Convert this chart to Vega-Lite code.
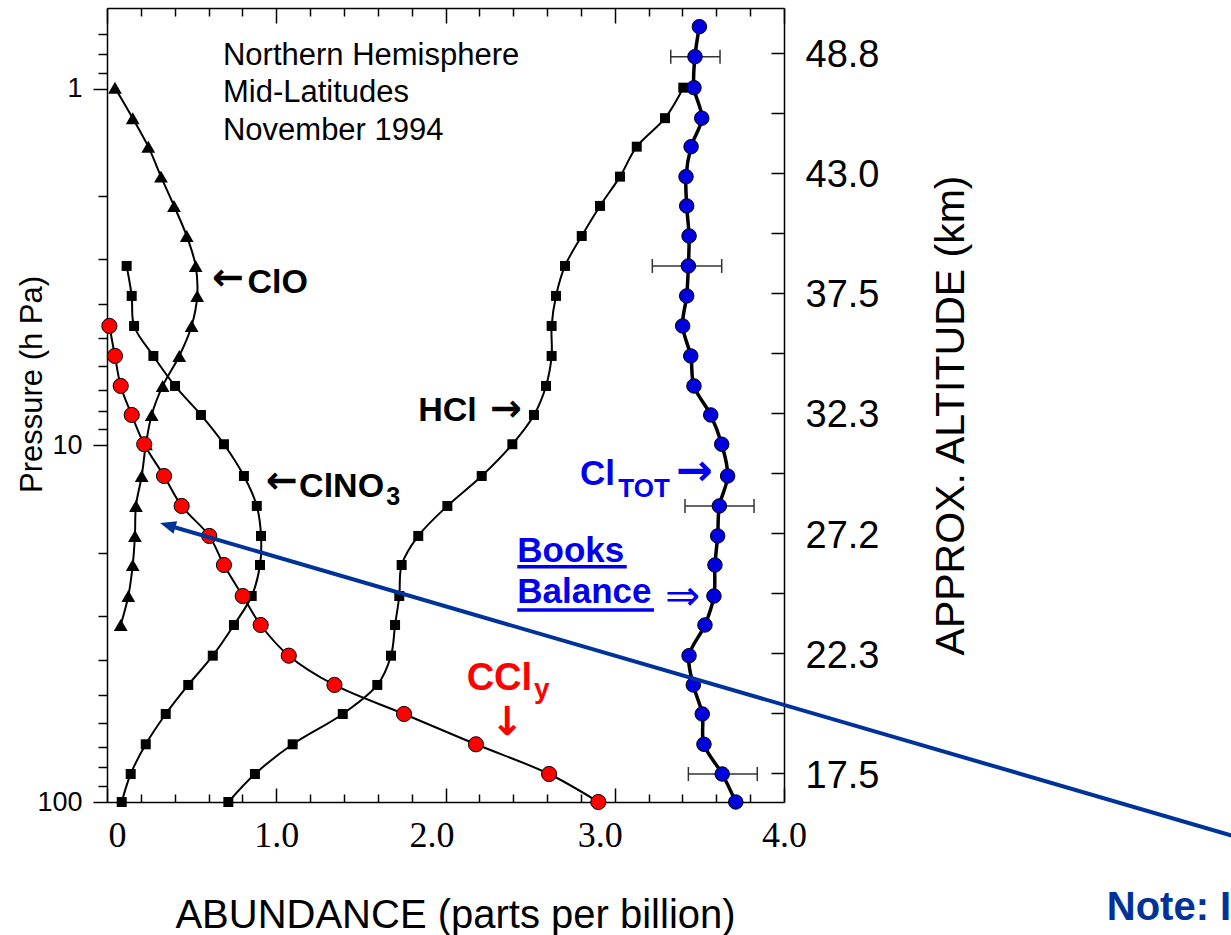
{
  "$schema": "https://vega.github.io/schema/vega-lite/v6.json",
  "width": 677,
  "height": 794,
  "autosize": "none",
  "padding": {"left": 107, "top": 8, "right": 447, "bottom": 133},
  "background": "white",
  "config": {"view": {"stroke": null}, "font": "Liberation Sans"},
  "datasets": {
    "pts": [
      {"s":"ClTOT","p":0.669,"v":3.500},{"s":"ClTOT","p":0.812,"v":3.474},{"s":"ClTOT","p":0.992,"v":3.468},{"s":"ClTOT","p":1.208,"v":3.514},{"s":"ClTOT","p":1.452,"v":3.451},{"s":"ClTOT","p":1.762,"v":3.421},{"s":"ClTOT","p":2.129,"v":3.425},{"s":"ClTOT","p":2.585,"v":3.439},{"s":"ClTOT","p":3.137,"v":3.435},{"s":"ClTOT","p":3.807,"v":3.425},{"s":"ClTOT","p":4.622,"v":3.401},{"s":"ClTOT","p":5.610,"v":3.449},{"s":"ClTOT","p":6.809,"v":3.468},{"s":"ClTOT","p":8.212,"v":3.567},{"s":"ClTOT","p":9.922,"v":3.632},{"s":"ClTOT","p":12.18,"v":3.667},{"s":"ClTOT","p":14.78,"v":3.618},{"s":"ClTOT","p":17.94,"v":3.608},{"s":"ClTOT","p":21.64,"v":3.592},{"s":"ClTOT","p":26.44,"v":3.586},{"s":"ClTOT","p":31.88,"v":3.533},{"s":"ClTOT","p":38.87,"v":3.439},{"s":"ClTOT","p":46.96,"v":3.464},{"s":"ClTOT","p":56.64,"v":3.517},{"s":"ClTOT","p":68.89,"v":3.527},{"s":"ClTOT","p":83.46,"v":3.635},{"s":"ClTOT","p":100,"v":3.715},
      {"s":"HCl","p":0.992,"v":3.405},{"s":"HCl","p":1.208,"v":3.297},{"s":"HCl","p":1.452,"v":3.130},{"s":"HCl","p":1.762,"v":3.031},{"s":"HCl","p":2.129,"v":2.913},{"s":"HCl","p":2.585,"v":2.805},{"s":"HCl","p":3.137,"v":2.706},{"s":"HCl","p":3.807,"v":2.653},{"s":"HCl","p":4.622,"v":2.627},{"s":"HCl","p":5.610,"v":2.627},{"s":"HCl","p":6.809,"v":2.594},{"s":"HCl","p":8.212,"v":2.523},{"s":"HCl","p":9.922,"v":2.395},{"s":"HCl","p":12.18,"v":2.214},{"s":"HCl","p":14.78,"v":2.011},{"s":"HCl","p":17.94,"v":1.839},{"s":"HCl","p":21.64,"v":1.741},{"s":"HCl","p":26.44,"v":1.727},{"s":"HCl","p":31.88,"v":1.702},{"s":"HCl","p":38.87,"v":1.678},{"s":"HCl","p":46.96,"v":1.597},{"s":"HCl","p":56.64,"v":1.393},{"s":"HCl","p":68.89,"v":1.097},{"s":"HCl","p":83.46,"v":0.874},{"s":"HCl","p":100,"v":0.717},
      {"s":"ClO","p":0.992,"v":0.047},{"s":"ClO","p":1.208,"v":0.152},{"s":"ClO","p":1.452,"v":0.244},{"s":"ClO","p":1.762,"v":0.319},{"s":"ClO","p":2.129,"v":0.396},{"s":"ClO","p":2.585,"v":0.471},{"s":"ClO","p":3.137,"v":0.524},{"s":"ClO","p":3.807,"v":0.533},{"s":"ClO","p":4.622,"v":0.500},{"s":"ClO","p":5.610,"v":0.427},{"s":"ClO","p":6.809,"v":0.329},{"s":"ClO","p":8.212,"v":0.264},{"s":"ClO","p":9.922,"v":0.230},{"s":"ClO","p":12.18,"v":0.205},{"s":"ClO","p":14.78,"v":0.171},{"s":"ClO","p":17.94,"v":0.165},{"s":"ClO","p":21.64,"v":0.152},{"s":"ClO","p":26.44,"v":0.126},{"s":"ClO","p":31.88,"v":0.081},
      {"s":"ClONO2","p":3.137,"v":0.116},{"s":"ClONO2","p":3.807,"v":0.146},{"s":"ClONO2","p":4.622,"v":0.160},{"s":"ClONO2","p":5.610,"v":0.274},{"s":"ClONO2","p":6.809,"v":0.402},{"s":"ClONO2","p":8.212,"v":0.555},{"s":"ClONO2","p":9.922,"v":0.691},{"s":"ClONO2","p":12.18,"v":0.809},{"s":"ClONO2","p":14.78,"v":0.885},{"s":"ClONO2","p":17.94,"v":0.910},{"s":"ClONO2","p":21.64,"v":0.904},{"s":"ClONO2","p":26.44,"v":0.855},{"s":"ClONO2","p":31.88,"v":0.750},{"s":"ClONO2","p":38.87,"v":0.625},{"s":"ClONO2","p":46.96,"v":0.480},{"s":"ClONO2","p":56.64,"v":0.347},{"s":"ClONO2","p":68.89,"v":0.229},{"s":"ClONO2","p":83.46,"v":0.140},{"s":"ClONO2","p":100,"v":0.087},
      {"s":"CCly","p":4.622,"v":0.014},{"s":"CCly","p":5.610,"v":0.047},{"s":"CCly","p":6.809,"v":0.081},{"s":"CCly","p":8.212,"v":0.146},{"s":"CCly","p":9.922,"v":0.220},{"s":"CCly","p":12.18,"v":0.337},{"s":"CCly","p":14.78,"v":0.441},{"s":"CCly","p":17.94,"v":0.604},{"s":"CCly","p":21.64,"v":0.691},{"s":"CCly","p":26.44,"v":0.802},{"s":"CCly","p":31.88,"v":0.908},{"s":"CCly","p":38.87,"v":1.074},{"s":"CCly","p":46.96,"v":1.344},{"s":"CCly","p":56.64,"v":1.755},{"s":"CCly","p":68.89,"v":2.180},{"s":"CCly","p":83.46,"v":2.612},{"s":"CCly","p":100,"v":2.903}
    ],
    "errs": [
      {"p":0.812,"lo":3.331,"hi":3.622},
      {"p":3.137,"lo":3.222,"hi":3.632},
      {"p":14.78,"lo":3.415,"hi":3.823},
      {"p":83.46,"lo":3.435,"hi":3.842}
    ],
    "labels": [
      {"g":"info","t":"Northern Hemisphere","v":0.685,"p":0.856},
      {"g":"info","t":"Mid-Latitudes","v":0.685,"p":1.088},
      {"g":"info","t":"November 1994","v":0.685,"p":1.390},
      {"g":"blk","t":"ClO","v":0.830,"p":3.735},
      {"g":"arr","t":"←","v":0.620,"p":3.412},
      {"g":"blk","t":"HCl","v":1.839,"p":8.538},
      {"g":"arr","t":"→","v":2.263,"p":7.95},
      {"g":"blk","t":"ClNO","v":1.135,"p":13.95},
      {"g":"arr","t":"←","v":0.938,"p":12.64},
      {"g":"blksub","t":"3","v":1.650,"p":14.69},
      {"g":"blu","t":"Cl","v":2.795,"p":12.90},
      {"g":"barr","t":"→","v":3.360,"p":11.85},
      {"g":"blu","t":"Books","v":2.424,"p":21.23},
      {"g":"blu","t":"Balance","v":2.424,"p":27.66},
      {"g":"blusub","t":"TOT","v":3.021,"p":13.95},
      {"g":"blu2","t":"⇒","v":3.297,"p":26.61},
      {"g":"red","t":"CCl","v":2.125,"p":48.52},
      {"g":"redsub","t":"y","v":2.523,"p":51.08},
      {"g":"redarr","t":"↓","v":2.365,"p":60.15},
      {"g":"note","t":"Note: I","v":5.907,"p":214.3}
    ],
    "ulines": [
      {"v":2.424,"v2":3.071,"p":21.88},
      {"v":2.424,"v2":3.232,"p":28.94}
    ],
    "arrow": [
      {"v":0.3586,"p":16.74,"v2":6.753,"p2":128.5}
    ]
  },
  "layer": [
    {
      "data": {"name": "pts"},
      "transform": [{"filter": "datum.s != 'ClTOT'"}],
      "mark": {"type": "line", "color": "black", "strokeWidth": 2, "interpolate": "catmull-rom"},
      "encoding": {
        "x": {"field": "v", "type": "quantitative", "scale": {"domain": [0, 4], "nice": false, "zero": false},
          "axis": {
            "orient": "bottom",
            "values": [0,0.2,0.4,0.6,0.8,1,1.2,1.4,1.6,1.8,2,2.2,2.4,2.6,2.8,3,3.2,3.4,3.6,3.8,4],
            "grid": false,
            "domainColor": "black", "domainWidth": 1.5,
            "tickColor": "black", "tickWidth": 1.5,
            "tickSize": {"condition": {"test": "datum.value % 1 == 0", "value": -14}, "value": -8},
            "labelExpr": "datum.value == 0 ? '0' : (datum.value % 1 == 0 ? format(datum.value, '.1f') : '')",
            "labelFont": "Liberation Serif", "labelFontSize": 36, "labelColor": "black",
            "labelPadding": 30, "labelOverlap": false, "labelFlush": false, "labelBound": false,
            "labelOffset": {"condition": [{"test": "datum.value == 0", "value": 10}, {"test": "datum.value == 2", "value": -14}, {"test": "datum.value == 3", "value": -15}], "value": 0},
            "title": "ABUNDANCE (parts per billion)",
            "titleFont": "Liberation Sans", "titleFontSize": 40, "titleFontWeight": "normal", "titleColor": "black",
            "titleX": 348, "titleY": 125, "titleAlign": "center", "titleBaseline": "alphabetic"
          }},
        "y": {"field": "p", "type": "quantitative", "scale": {"type": "log", "domain": [0.593, 100], "reverse": true, "nice": false},
          "axis": {
            "orient": "left",
            "values": [0.7,0.8,0.9,1,2,3,4,5,6,7,8,9,10,20,30,40,50,60,70,80,90,100],
            "grid": false,
            "domainColor": "black", "domainWidth": 1.5,
            "tickColor": "black", "tickWidth": 1.5,
            "tickSize": {"condition": {"test": "datum.value == 1 || datum.value == 10 || datum.value == 100", "value": 14}, "value": 9},
            "labelExpr": "datum.value == 1 || datum.value == 10 || datum.value == 100 ? format(datum.value, 'd') : ''",
            "labelFont": "Liberation Sans", "labelFontSize": 27, "labelColor": "black",
            "labelPadding": 11, "labelOverlap": false, "labelFlush": false, "labelBound": false,
            "title": "Pressure (h Pa)",
            "titleFont": "Liberation Sans", "titleFontSize": 31, "titleFontWeight": "normal", "titleColor": "black",
            "titleX": -66, "titleY": 376, "titleAngle": 270, "titleAlign": "center", "titleBaseline": "alphabetic"
          }},
        "detail": {"field": "s"},
        "order": {"field": "p", "type": "quantitative"}
      }
    },
    {
      "data": {"name": "pts"},
      "transform": [{"filter": "datum.s == 'ClTOT'"}],
      "mark": {"type": "line", "color": "black", "strokeWidth": 3.5, "interpolate": "catmull-rom"},
      "encoding": {
        "x": {"field": "v", "type": "quantitative", "scale": {"domain": [0, 4], "nice": false, "zero": false},
          "axis": {
            "orient": "top",
            "values": [0,0.2,0.4,0.6,0.8,1,1.2,1.4,1.6,1.8,2,2.2,2.4,2.6,2.8,3,3.2,3.4,3.6,3.8,4],
            "grid": false, "labels": false, "title": null,
            "domainColor": "black", "domainWidth": 1.5,
            "tickColor": "black", "tickWidth": 1.5,
            "tickSize": {"condition": {"test": "datum.value % 1 == 0", "value": -15}, "value": -8}
          }},
        "y": {"field": "p", "type": "quantitative", "scale": {"type": "log", "domain": [0.593, 100], "reverse": true, "nice": false},
          "axis": {
            "orient": "right",
            "values": [0.7925, 1.1676, 1.7205, 2.5349, 3.7349, 5.503, 8.1083, 11.946, 17.601, 25.933, 38.209, 56.297, 82.93],
            "grid": false,
            "domainColor": "black", "domainWidth": 1.5,
            "tickColor": "black", "tickWidth": 1.5, "tickSize": -13,
            "labelExpr": "['48.8','','43.0','','37.5','','32.3','','27.2','','22.3','','17.5'][round((log(datum.value)/LN10 + 0.101)/0.1683)]",
            "labelFont": "Liberation Sans", "labelFontSize": 38, "labelColor": "black",
            "labelPadding": 34, "labelOffset": 3, "labelAlign": "left", "labelOverlap": false, "labelFlush": false, "labelBound": false,
            "title": "APPROX. ALTITUDE (km)",
            "titleFont": "Liberation Sans", "titleFontSize": 41, "titleFontWeight": "normal", "titleColor": "black",
            "titleX": 179, "titleY": 407, "titleAngle": 270, "titleAlign": "center", "titleBaseline": "alphabetic"
          }},
        "order": {"field": "p", "type": "quantitative"}
      }
    },
    {
      "data": {"name": "errs"},
      "mark": {"type": "rule", "color": "#333333", "strokeWidth": 1.5},
      "encoding": {
        "x": {"field": "lo", "type": "quantitative", "scale": {"domain": [0, 4], "nice": false, "zero": false}, "axis": null},
        "x2": {"field": "hi"},
        "y": {"field": "p", "type": "quantitative", "scale": {"type": "log", "domain": [0.593, 100], "reverse": true, "nice": false}, "axis": null}
      }
    },
    {
      "data": {"name": "errs"},
      "transform": [{"fold": ["lo", "hi"], "as": ["k", "xv"]}],
      "mark": {"type": "point", "shape": "M0,-1L0,1", "filled": false, "stroke": "#333333", "strokeWidth": 1.5, "size": 196, "opacity": 1},
      "encoding": {
        "x": {"field": "xv", "type": "quantitative", "scale": {"domain": [0, 4], "nice": false, "zero": false}, "axis": null},
        "y": {"field": "p", "type": "quantitative", "scale": {"type": "log", "domain": [0.593, 100], "reverse": true, "nice": false}, "axis": null}
      }
    },
    {
      "data": {"name": "pts"},
      "transform": [{"filter": "datum.s == 'HCl' || datum.s == 'ClONO2'"}],
      "mark": {"type": "point", "shape": "square", "filled": true, "color": "black", "size": 100, "opacity": 1},
      "encoding": {
        "x": {"field": "v", "type": "quantitative", "scale": {"domain": [0, 4], "nice": false, "zero": false}, "axis": null},
        "y": {"field": "p", "type": "quantitative", "scale": {"type": "log", "domain": [0.593, 100], "reverse": true, "nice": false}, "axis": null}
      }
    },
    {
      "data": {"name": "pts"},
      "transform": [{"filter": "datum.s == 'ClO'"}],
      "mark": {"type": "point", "shape": "triangle-up", "filled": true, "color": "black", "size": 190, "opacity": 1},
      "encoding": {
        "x": {"field": "v", "type": "quantitative", "scale": {"domain": [0, 4], "nice": false, "zero": false}, "axis": null},
        "y": {"field": "p", "type": "quantitative", "scale": {"type": "log", "domain": [0.593, 100], "reverse": true, "nice": false}, "axis": null}
      }
    },
    {
      "data": {"name": "pts"},
      "transform": [{"filter": "datum.s == 'CCly'"}],
      "mark": {"type": "point", "shape": "circle", "filled": true, "fill": "#ff0000", "stroke": "black", "strokeWidth": 1, "size": 230, "opacity": 1},
      "encoding": {
        "x": {"field": "v", "type": "quantitative", "scale": {"domain": [0, 4], "nice": false, "zero": false}, "axis": null},
        "y": {"field": "p", "type": "quantitative", "scale": {"type": "log", "domain": [0.593, 100], "reverse": true, "nice": false}, "axis": null}
      }
    },
    {
      "data": {"name": "pts"},
      "transform": [{"filter": "datum.s == 'ClTOT'"}],
      "mark": {"type": "point", "shape": "circle", "filled": true, "fill": "#0000dd", "stroke": "black", "strokeWidth": 1, "size": 210, "opacity": 1},
      "encoding": {
        "x": {"field": "v", "type": "quantitative", "scale": {"domain": [0, 4], "nice": false, "zero": false}, "axis": null},
        "y": {"field": "p", "type": "quantitative", "scale": {"type": "log", "domain": [0.593, 100], "reverse": true, "nice": false}, "axis": null}
      }
    },
    {
      "data": {"name": "labels"},
      "transform": [{"filter": "datum.g == 'info'"}],
      "mark": {"type": "text", "align": "left", "baseline": "alphabetic", "font": "Liberation Sans", "fontSize": 31, "color": "black"},
      "encoding": {
        "x": {"field": "v", "type": "quantitative", "scale": {"domain": [0, 4], "nice": false, "zero": false}, "axis": null},
        "y": {"field": "p", "type": "quantitative", "scale": {"type": "log", "domain": [0.593, 100], "reverse": true, "nice": false}, "axis": null},
        "text": {"field": "t"}
      }
    },
    {
      "data": {"name": "labels"},
      "transform": [{"filter": "datum.g == 'blk'"}],
      "mark": {"type": "text", "align": "left", "baseline": "alphabetic", "font": "Liberation Sans", "fontSize": 34, "fontWeight": "bold", "color": "black"},
      "encoding": {
        "x": {"field": "v", "type": "quantitative", "scale": {"domain": [0, 4], "nice": false, "zero": false}, "axis": null},
        "y": {"field": "p", "type": "quantitative", "scale": {"type": "log", "domain": [0.593, 100], "reverse": true, "nice": false}, "axis": null},
        "text": {"field": "t"}
      }
    },
    {
      "data": {"name": "labels"},
      "transform": [{"filter": "datum.g == 'arr'"}],
      "mark": {"type": "text", "align": "left", "baseline": "middle", "font": "DejaVu Sans", "fontSize": 38, "fontWeight": "bold", "color": "black"},
      "encoding": {
        "x": {"field": "v", "type": "quantitative", "scale": {"domain": [0, 4], "nice": false, "zero": false}, "axis": null},
        "y": {"field": "p", "type": "quantitative", "scale": {"type": "log", "domain": [0.593, 100], "reverse": true, "nice": false}, "axis": null},
        "text": {"field": "t"}
      }
    },
    {
      "data": {"name": "labels"},
      "transform": [{"filter": "datum.g == 'blksub'"}],
      "mark": {"type": "text", "align": "left", "baseline": "alphabetic", "font": "Liberation Sans", "fontSize": 25, "fontWeight": "bold", "color": "black"},
      "encoding": {
        "x": {"field": "v", "type": "quantitative", "scale": {"domain": [0, 4], "nice": false, "zero": false}, "axis": null},
        "y": {"field": "p", "type": "quantitative", "scale": {"type": "log", "domain": [0.593, 100], "reverse": true, "nice": false}, "axis": null},
        "text": {"field": "t"}
      }
    },
    {
      "data": {"name": "labels"},
      "transform": [{"filter": "datum.g == 'blu'"}],
      "mark": {"type": "text", "align": "left", "baseline": "alphabetic", "font": "Liberation Sans", "fontSize": 35, "fontWeight": "bold", "color": "#0000ee"},
      "encoding": {
        "x": {"field": "v", "type": "quantitative", "scale": {"domain": [0, 4], "nice": false, "zero": false}, "axis": null},
        "y": {"field": "p", "type": "quantitative", "scale": {"type": "log", "domain": [0.593, 100], "reverse": true, "nice": false}, "axis": null},
        "text": {"field": "t"}
      }
    },
    {
      "data": {"name": "labels"},
      "transform": [{"filter": "datum.g == 'barr'"}],
      "mark": {"type": "text", "align": "left", "baseline": "middle", "font": "DejaVu Sans", "fontSize": 44, "fontWeight": "bold", "color": "#0000ee"},
      "encoding": {
        "x": {"field": "v", "type": "quantitative", "scale": {"domain": [0, 4], "nice": false, "zero": false}, "axis": null},
        "y": {"field": "p", "type": "quantitative", "scale": {"type": "log", "domain": [0.593, 100], "reverse": true, "nice": false}, "axis": null},
        "text": {"field": "t"}
      }
    },
    {
      "data": {"name": "labels"},
      "transform": [{"filter": "datum.g == 'blusub'"}],
      "mark": {"type": "text", "align": "left", "baseline": "alphabetic", "font": "Liberation Sans", "fontSize": 26, "fontWeight": "bold", "color": "#0000ee"},
      "encoding": {
        "x": {"field": "v", "type": "quantitative", "scale": {"domain": [0, 4], "nice": false, "zero": false}, "axis": null},
        "y": {"field": "p", "type": "quantitative", "scale": {"type": "log", "domain": [0.593, 100], "reverse": true, "nice": false}, "axis": null},
        "text": {"field": "t"}
      }
    },
    {
      "data": {"name": "labels"},
      "transform": [{"filter": "datum.g == 'blu2'"}],
      "mark": {"type": "text", "align": "left", "baseline": "middle", "font": "DejaVu Sans", "fontSize": 42, "color": "#0000ee"},
      "encoding": {
        "x": {"field": "v", "type": "quantitative", "scale": {"domain": [0, 4], "nice": false, "zero": false}, "axis": null},
        "y": {"field": "p", "type": "quantitative", "scale": {"type": "log", "domain": [0.593, 100], "reverse": true, "nice": false}, "axis": null},
        "text": {"field": "t"}
      }
    },
    {
      "data": {"name": "labels"},
      "transform": [{"filter": "datum.g == 'red'"}],
      "mark": {"type": "text", "align": "left", "baseline": "alphabetic", "font": "Liberation Sans", "fontSize": 38, "fontWeight": "bold", "color": "#ff0000"},
      "encoding": {
        "x": {"field": "v", "type": "quantitative", "scale": {"domain": [0, 4], "nice": false, "zero": false}, "axis": null},
        "y": {"field": "p", "type": "quantitative", "scale": {"type": "log", "domain": [0.593, 100], "reverse": true, "nice": false}, "axis": null},
        "text": {"field": "t"}
      }
    },
    {
      "data": {"name": "labels"},
      "transform": [{"filter": "datum.g == 'redsub'"}],
      "mark": {"type": "text", "align": "left", "baseline": "alphabetic", "font": "Liberation Sans", "fontSize": 28, "fontWeight": "bold", "color": "#ff0000"},
      "encoding": {
        "x": {"field": "v", "type": "quantitative", "scale": {"domain": [0, 4], "nice": false, "zero": false}, "axis": null},
        "y": {"field": "p", "type": "quantitative", "scale": {"type": "log", "domain": [0.593, 100], "reverse": true, "nice": false}, "axis": null},
        "text": {"field": "t"}
      }
    },
    {
      "data": {"name": "labels"},
      "transform": [{"filter": "datum.g == 'redarr'"}],
      "mark": {"type": "text", "align": "center", "baseline": "middle", "font": "DejaVu Sans", "fontSize": 40, "fontWeight": "bold", "color": "#ff0000"},
      "encoding": {
        "x": {"field": "v", "type": "quantitative", "scale": {"domain": [0, 4], "nice": false, "zero": false}, "axis": null},
        "y": {"field": "p", "type": "quantitative", "scale": {"type": "log", "domain": [0.593, 100], "reverse": true, "nice": false}, "axis": null},
        "text": {"field": "t"}
      }
    },
    {
      "data": {"name": "labels"},
      "transform": [{"filter": "datum.g == 'note'"}],
      "mark": {"type": "text", "align": "left", "baseline": "alphabetic", "font": "Liberation Sans", "fontSize": 40, "fontWeight": "bold", "color": "#003399"},
      "encoding": {
        "x": {"field": "v", "type": "quantitative", "scale": {"domain": [0, 4], "nice": false, "zero": false}, "axis": null},
        "y": {"field": "p", "type": "quantitative", "scale": {"type": "log", "domain": [0.593, 100], "reverse": true, "nice": false}, "axis": null},
        "text": {"field": "t"}
      }
    },
    {
      "data": {"name": "ulines"},
      "mark": {"type": "rule", "color": "#0000ee", "strokeWidth": 3.5},
      "encoding": {
        "x": {"field": "v", "type": "quantitative", "scale": {"domain": [0, 4], "nice": false, "zero": false}, "axis": null},
        "x2": {"field": "v2"},
        "y": {"field": "p", "type": "quantitative", "scale": {"type": "log", "domain": [0.593, 100], "reverse": true, "nice": false}, "axis": null}
      }
    },
    {
      "data": {"name": "arrow"},
      "mark": {"type": "rule", "color": "#003399", "strokeWidth": 4},
      "encoding": {
        "x": {"field": "v", "type": "quantitative", "scale": {"domain": [0, 4], "nice": false, "zero": false}, "axis": null},
        "x2": {"field": "v2"},
        "y": {"field": "p", "type": "quantitative", "scale": {"type": "log", "domain": [0.593, 100], "reverse": true, "nice": false}, "axis": null},
        "y2": {"field": "p2"}
      }
    },
    {
      "data": {"name": "arrow"},
      "mark": {"type": "point", "shape": "M0,-1L0.8,1L-0.8,1Z", "filled": true, "color": "#003399", "size": 256, "angle": 286.5, "opacity": 1},
      "encoding": {
        "x": {"field": "v", "type": "quantitative", "scale": {"domain": [0, 4], "nice": false, "zero": false}, "axis": null},
        "y": {"field": "p", "type": "quantitative", "scale": {"type": "log", "domain": [0.593, 100], "reverse": true, "nice": false}, "axis": null}
      }
    }
  ],
  "resolve": {"axis": {"x": "independent", "y": "independent"}}
}
